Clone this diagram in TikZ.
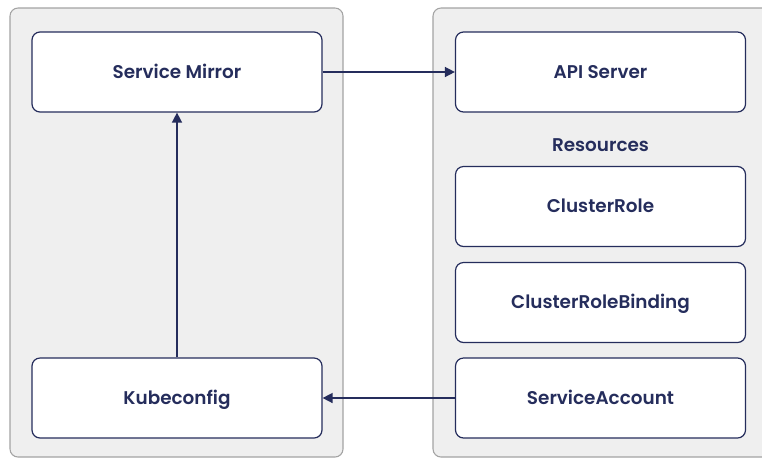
\documentclass[tikz,border=0pt]{standalone}
\usepackage{fontspec}
\setmainfont{Poppins}[UprightFont=* Medium, BoldFont=* SemiBold]
\usetikzlibrary{arrows.meta}
\definecolor{navy}{HTML}{252D5C}
\definecolor{panelfill}{HTML}{EFEFEF}
\definecolor{panelline}{HTML}{A3A3A3}
\tikzset{
  panel/.style={draw=panelline, fill=panelfill, rounded corners=6pt, line width=0.8pt},
  box/.style={draw=navy, fill=white, rounded corners=6pt, line width=0.9pt,
    minimum width=217.5pt, minimum height=60pt, inner sep=0pt,
    text height=11pt, text depth=1.4pt,
    font=\fontsize{13.8}{16}\selectfont\bfseries, text=navy},
  lbl/.style={font=\fontsize{13.8}{16}\selectfont\bfseries, text=navy},
  link/.style={draw=navy, line width=1.1pt, -{Triangle[length=7.5pt,width=7.5pt]}}
}
\begin{document}
\begin{tikzpicture}[x=0.75pt,y=-0.75pt]
\useasboundingbox (0,0) rectangle (762,458);
\begin{scope}
\clip (0,0) rectangle (762,458);
% cluster panels
\path[panel] (10,8) rectangle (343,457);
\path[panel] (433,8) rectangle (790,457);
\end{scope}
% left cluster
\node[box] (mirror) at (177,72) {Service Mirror};
\node[box] (kube) at (177,398) {Kubeconfig};
% right cluster
\node[box] (api) at (600.5,72) {API Server};
\node[lbl] (res) at (600.5,145) {Resources};
\node[box] (crole) at (600.5,206.5) {ClusterRole};
\node[box] (crb) at (600.5,302.5) {ClusterRoleBinding};
\node[box] (sa) at (600.5,398) {ServiceAccount};
% connectors
\draw[link] (mirror) -- (api);
\draw[link] (kube) -- (mirror);
\draw[link] (sa) -- (kube);
\end{tikzpicture}
\end{document}
